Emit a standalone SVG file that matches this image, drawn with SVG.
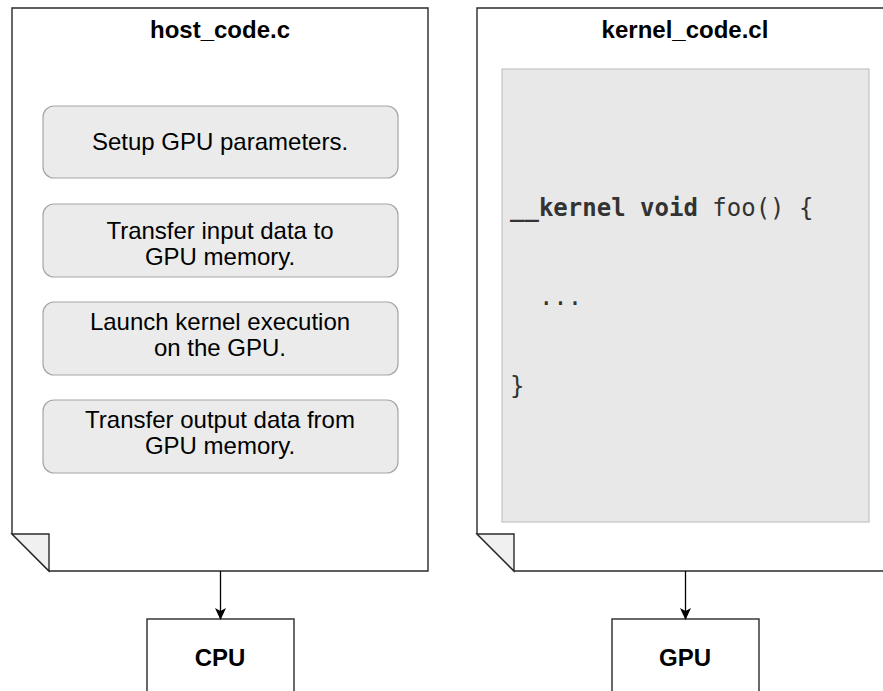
<svg xmlns="http://www.w3.org/2000/svg" width="883" height="691" viewBox="0 0 883 691">
  <defs>
    <marker id="arrow" viewBox="0 0 12 12" refX="11" refY="6" markerWidth="12" markerHeight="12" markerUnits="userSpaceOnUse" orient="auto">
      <path d="M0,0.5 L12,6 L0,11.5 L3,6 Z" fill="#000"/>
    </marker>
  </defs>
  <style>
    .page { fill: #ffffff; stroke: #2a2a2a; stroke-width: 1.4; }
    .fold { fill: #f0f0f0; stroke: #2a2a2a; stroke-width: 1.4; stroke-linejoin: miter; }
    .step { fill: #ebebeb; stroke: #a6a6a6; stroke-width: 1.2; }
    .code-bg { fill: #e8e8e8; stroke: #c4c4c4; stroke-width: 1.2; }
    .unit { fill: #ffffff; stroke: #2a2a2a; stroke-width: 1.4; }
    .title { font-family: "Liberation Sans", Arial, sans-serif; font-size: 24px; font-weight: bold; fill: #000; text-anchor: middle; }
    .label { font-family: "Liberation Sans", Arial, sans-serif; font-size: 24px; fill: #000; text-anchor: middle; }
    .code { font-family: "DejaVu Sans Mono", monospace; font-size: 24px; fill: #333333; }
    .kw { font-weight: bold; }
    .edge { fill: none; stroke: #000; stroke-width: 1.3; marker-end: url(#arrow); }
  </style>

  <!-- host source file -->
  <g id="host_code">
    <path class="page" d="M12,8 H428 V571 H49 L12,534 Z"/>
    <path class="fold" d="M12,534 H49 V571 Z"/>
    <text class="title" x="220" y="38">host_code.c</text>
  </g>

  <g id="step_setup">
    <rect class="step" x="43" y="106" width="355" height="72" rx="11"/>
    <text class="label" x="220" y="150">Setup GPU parameters.</text>
  </g>

  <g id="step_transfer_in">
    <rect class="step" x="43" y="204" width="355" height="73" rx="11"/>
    <text class="label" x="220" y="239">Transfer input data to</text>
    <text class="label" x="220" y="265">GPU memory.</text>
  </g>

  <g id="step_launch">
    <rect class="step" x="43" y="302" width="355" height="73" rx="11"/>
    <text class="label" x="220" y="330">Launch kernel execution</text>
    <text class="label" x="220" y="356">on the GPU.</text>
  </g>

  <g id="step_transfer_out">
    <rect class="step" x="43" y="400" width="355" height="73" rx="11"/>
    <text class="label" x="220" y="428">Transfer output data from</text>
    <text class="label" x="220" y="454">GPU memory.</text>
  </g>

  <!-- kernel source file -->
  <g id="kernel_code">
    <path class="page" d="M477,8 H892 V571 H514 L477,534 Z"/>
    <path class="fold" d="M477,534 H514 V571 Z"/>
    <text class="title" x="685" y="38">kernel_code.cl</text>
    <rect class="code-bg" x="502" y="69" width="367" height="453"/>
    <text class="code" x="510" y="216"><tspan class="kw">__kernel</tspan> <tspan class="kw">void</tspan> foo() {</text>
    <text class="code" x="510" y="305" xml:space="preserve">  ...</text>
    <text class="code" x="510" y="394">}</text>
  </g>

  <!-- processors -->
  <g id="cpu">
    <rect class="unit" x="147" y="619" width="147" height="90"/>
    <text class="title" x="220" y="666">CPU</text>
  </g>

  <g id="gpu">
    <rect class="unit" x="612" y="619" width="147" height="90"/>
    <text class="title" x="685" y="666">GPU</text>
  </g>

  <g id="connectors">
    <line class="edge" x1="220.5" y1="571" x2="220.5" y2="619"/>
    <line class="edge" x1="685.5" y1="571" x2="685.5" y2="619"/>
  </g>
</svg>
